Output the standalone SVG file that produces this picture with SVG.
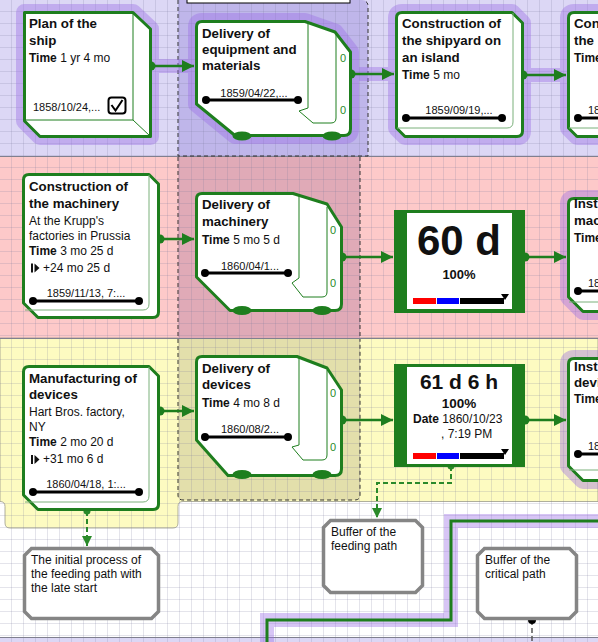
<svg xmlns="http://www.w3.org/2000/svg" width="598" height="642" viewBox="0 0 598 642">
<defs>
<pattern id="grid" width="12" height="12" patternUnits="userSpaceOnUse">
<path d="M11.5,0 V12 M0,11.5 H12" fill="none" stroke="#7a7a9a" stroke-opacity="0.2" stroke-width="1"/>
</pattern>
<marker id="arr" viewBox="0 0 10 10" refX="10" refY="5" markerUnits="userSpaceOnUse" markerWidth="15" markerHeight="12" orient="auto">
<path d="M0,0 L10,5 L0,10 Z" fill="#1e7e1e"/>
</marker>
<marker id="arrd" viewBox="0 0 10 10" refX="10" refY="5" markerUnits="userSpaceOnUse" markerWidth="11" markerHeight="10" orient="auto">
<path d="M0,0 L10,5 L0,10 Z" fill="#2a8a2a"/>
</marker>
<style>
.t{font-family:"Liberation Sans",Arial,Helvetica,sans-serif;fill:#111}
.ttl{font-size:13.3px;font-weight:bold}
.body{font-size:12px}
.b{font-weight:bold}
.date{font-size:11px;text-anchor:middle}
.zero{font-family:"Liberation Sans",Arial,sans-serif;font-size:11px;fill:#2a8a2a}
.nb{fill:#fff;stroke:#1e7e1e;stroke-width:3;stroke-linejoin:round}
.thin{fill:none;stroke:#1e7e1e;stroke-width:1}
.thinl{fill:none;stroke:#7ab07a;stroke-width:1}
.con{fill:none;stroke:#1e7e1e;stroke-width:2.5}
.dcon{fill:none;stroke:#2a8a2a;stroke-width:2;stroke-dasharray:5,3}
.dot{fill:#1e7e1e}
.bar{stroke:#000;stroke-width:3}
.bd{fill:#000}
.note{fill:#fff;stroke:#858585;stroke-width:3.5}
.halo{fill:#9b6ee6;stroke:#9b6ee6;stroke-width:17;stroke-linejoin:round}
.hl{fill:none;stroke:#9b6ee6;stroke-width:14}
.dash{fill:none;stroke:#333;stroke-width:1;stroke-dasharray:4,3}
.sep{stroke:#80808f;stroke-width:1}
.cen{text-anchor:middle}
</style>
</defs>

<g id="background">
<rect x="0" y="0" width="598" height="642" fill="#ffffff"/>
<rect x="0" y="0" width="598" height="157" fill="#dcd7f5"/>
<rect x="0" y="157" width="598" height="181" fill="#fdc9c9"/>
<path d="M0,338 H598 V501.5 H183 Q178,501.5 178,506.5 V523 Q178,528 173,528 H10 Q5,528 5,523 V506.5 Q5,501.5 0,501.5 Z" fill="#fdfbc1" stroke="#9a9a8a" stroke-width="0.8"/>
<rect x="0" y="637" width="598" height="5" fill="#dcd7f5"/>
<path d="M178,0 V156 H368 V6 Q368,0 362,0 Z" fill="#bfb6ea"/>
<rect x="178" y="157" width="182" height="181" fill="#e0aab7"/>
<path d="M178,339 H360 V495 Q360,500 355,500 H183 Q178,500 178,495 Z" fill="#e3dfab"/>
<rect x="0" y="0" width="598" height="642" fill="url(#grid)"/>
<line class="sep" x1="0" y1="156.5" x2="598" y2="156.5"/>
<line class="sep" x1="0" y1="338.5" x2="598" y2="338.5"/>
<line class="sep" x1="0" y1="637.5" x2="598" y2="637.5"/>
<path class="dash" d="M178,0 V156 H368 V6 Q368,1 363,1"/>
<path class="dash" d="M178,157 V338 M360,157 V338"/>
<path class="dash" d="M178,339 V495 Q178,500 183,500 H355 Q360,500 360,495 V339"/>
<rect x="187" y="-5" width="163" height="8" fill="#fff" stroke="#000" stroke-width="1"/>
</g>

<g id="halos" opacity="0.4">
<path class="halo" d="M24.5,12.5 H133 L150.5,29 V136.5 H40 L24.5,121 Z"/>
<path class="halo" d="M202,21.5 H305 L335,32 L350.5,52 V129 Q350.5,135.5 344,135.5 H235 L196.5,104 V27 Q196.5,21.5 202,21.5 Z"/>
<path class="halo" d="M402,12.5 H512 L522.5,23 V131 Q522.5,136.5 517,136.5 H405 L396.5,128 V18 Q396.5,12.5 402,12.5 Z"/>
<path class="halo" d="M574,12.5 H620 V136.5 H577 L568.5,128 V18 Q568.5,12.5 574,12.5 Z"/>
<path class="halo" d="M574,198.5 H620 V311.5 H583 L568.5,297 V204 Q568.5,198.5 574,198.5 Z"/>
<path class="halo" d="M574,358.5 H620 V480.5 H583 L568.5,466 V364 Q568.5,358.5 574,358.5 Z"/>
<path class="hl" d="M151,66 H195 M351,74 H395 M523,75 H567"/>
<path class="hl" d="M267,642 V620 H451 V521 H598" stroke-width="16"/>
</g>

<g id="connectors">
<path class="con" d="M151,66 H194" marker-end="url(#arr)"/>
<circle class="dot" cx="151" cy="66" r="4.5"/>
<path class="con" d="M351,74 H394" marker-end="url(#arr)"/>
<circle class="dot" cx="351" cy="74" r="4.5"/>
<path class="con" d="M523,75 H566" marker-end="url(#arr)"/>
<circle class="dot" cx="523" cy="75" r="4.5"/>
<path class="con" d="M160,239 H194" marker-end="url(#arr)"/>
<circle class="dot" cx="160" cy="239" r="4.5"/>
<path class="con" d="M342,257 H393" marker-end="url(#arr)"/>
<circle class="dot" cx="342" cy="257" r="4.5"/>
<path class="con" d="M525,257 H566" marker-end="url(#arr)"/>
<circle class="dot" cx="525" cy="257" r="4.5"/>
<path class="con" d="M160,411 H194" marker-end="url(#arr)"/>
<circle class="dot" cx="160" cy="411" r="4.5"/>
<path class="con" d="M342,420 H393" marker-end="url(#arr)"/>
<circle class="dot" cx="342" cy="420" r="4.5"/>
<path class="con" d="M525,420 H566" marker-end="url(#arr)"/>
<circle class="dot" cx="525" cy="420" r="4.5"/>
<path class="dcon" d="M87,511 V546" marker-end="url(#arrd)"/>
<circle cx="87" cy="511" r="3.5" fill="#2a8a2a"/>
<path class="dcon" d="M451,466 V483 H377 V518" marker-end="url(#arrd)"/>
<circle cx="451" cy="466" r="3.5" fill="#2a8a2a"/>
<path d="M532,620 V642" fill="none" stroke="#555" stroke-width="1.5" stroke-dasharray="5,3"/>
<circle cx="532" cy="620" r="4" fill="#000"/>
<path d="M267,642 V620 H451 V521 H598" fill="none" stroke="#1e7e1e" stroke-width="3"/>
</g>

<g id="node-plan">
<path class="nb" d="M24.5,12.5 H133 L150.5,29 V136.5 H40 L24.5,121 Z" stroke-linejoin="miter"/>
<path class="thin" d="M133,13 V120 H25 M133,120 L150,136"/>
<text class="t ttl" x="29" y="28">Plan of the</text>
<text class="t ttl" x="29" y="45">ship</text>
<text class="t body" x="29" y="62"><tspan class="b">Time</tspan> 1 yr 4 mo</text>
<text class="t" x="33" y="111" font-size="11">1858/10/24,...</text>
<rect x="108.5" y="97.5" width="17" height="16" rx="3" fill="#fff" stroke="#000" stroke-width="2"/>
<path d="M111.5,105 L115.5,110.5 L122.5,100" fill="none" stroke="#000" stroke-width="2"/>
</g>

<g id="node-delivery-equipment">
<path class="nb" d="M202,21.5 H305 L335,32 L350.5,52 V129 Q350.5,135.5 344,135.5 H235 L196.5,104 V27 Q196.5,21.5 202,21.5 Z"/>
<path class="thin" d="M308,22 V108 L299,111 L313,123 H331 Q336,123 336,118 V33"/>
<ellipse class="dot" cx="242" cy="136" rx="9.5" ry="4.5"/>
<ellipse class="dot" cx="332" cy="136" rx="9.5" ry="4.5"/>
<text class="zero" x="340" y="62">0</text>
<text class="zero" x="340" y="114">0</text>
<text class="t ttl" x="202" y="38">Delivery of</text>
<text class="t ttl" x="202" y="54">equipment and</text>
<text class="t ttl" x="202" y="70">materials</text>
<line class="bar" x1="206" y1="100" x2="298" y2="100"/>
<circle class="bd" cx="206" cy="100" r="4"/>
<circle class="bd" cx="298" cy="100" r="4"/>
<text class="t date" x="254" y="97">1859/04/22,...</text>
</g>

<g id="node-shipyard">
<path class="nb" d="M402,12.5 H512 L522.5,23 V131 Q522.5,136.5 517,136.5 H405 L396.5,128 V18 Q396.5,12.5 402,12.5 Z"/>
<path class="thinl" d="M513,13 V122 Q513,128 507,128 H397"/>
<text class="t ttl" x="402" y="28">Construction of</text>
<text class="t ttl" x="402" y="45">the shipyard on</text>
<text class="t ttl" x="402" y="62">an island</text>
<text class="t body" x="402" y="79"><tspan class="b">Time</tspan> 5 mo</text>
<line class="bar" x1="406" y1="118" x2="502" y2="118"/>
<circle class="bd" cx="406" cy="118" r="4"/>
<circle class="bd" cx="502" cy="118" r="4"/>
<text class="t date" x="459" y="114">1859/09/19,...</text>
</g>

<g id="node-construction-partial">
<path class="nb" d="M574,12.5 H620 V136.5 H577 L568.5,128 V18 Q568.5,12.5 574,12.5 Z"/>
<path class="thinl" d="M569,128 H610"/>
<text class="t ttl" x="574" y="28">Con</text>
<text class="t ttl" x="574" y="45">the</text>
<text class="t body b" x="574" y="62">Time</text>
<line class="bar" x1="578" y1="118" x2="610" y2="118"/>
<circle class="bd" cx="578" cy="118" r="4"/>
<text class="t" x="588" y="114" font-size="11">18</text>
</g>

<g id="node-machinery">
<path class="nb" d="M29,174.5 H149 L158.5,184 V312 Q158.5,317.5 153,317.5 H38 L23.5,303 V180 Q23.5,174.5 29,174.5 Z"/>
<path class="thinl" d="M149,175 V304 Q149,310 143,310 H25"/>
<text class="t ttl" x="29" y="191">Construction of</text>
<text class="t ttl" x="29" y="208">the machinery</text>
<text class="t body" x="29" y="225">At the Krupp's</text>
<text class="t body" x="29" y="240">factories in Prussia</text>
<text class="t body" x="29" y="255"><tspan class="b">Time</tspan> 3 mo 25 d</text>
<rect x="31" y="263.5" width="2" height="9" fill="#111"/>
<path d="M34.5,263.5 L39.5,268 L34.5,272.5 Z" fill="#111"/>
<text class="t body" x="43" y="272">+24 mo 25 d</text>
<line class="bar" x1="33" y1="301" x2="139" y2="301"/>
<circle class="bd" cx="33" cy="301" r="4"/>
<circle class="bd" cx="139" cy="301" r="4"/>
<text class="t date" x="86" y="297">1859/11/13, 7:...</text>
</g>

<g id="node-delivery-machinery">
<path class="nb" d="M202,193.5 H293 L327,204 L341.5,227 V304 Q341.5,310.5 335,310.5 H230 L196.5,277 V199 Q196.5,193.5 202,193.5 Z"/>
<path class="thin" d="M299,194 V278 L292,283 L303,297 H322 Q327,297 327,292 V207"/>
<ellipse class="dot" cx="242" cy="310.5" rx="9.5" ry="4.5"/>
<ellipse class="dot" cx="322" cy="310.5" rx="9.5" ry="4.5"/>
<text class="zero" x="330" y="234">0</text>
<text class="zero" x="330" y="287">0</text>
<text class="t ttl" x="202" y="209">Delivery of</text>
<text class="t ttl" x="202" y="226">machinery</text>
<text class="t body" x="202" y="244"><tspan class="b">Time</tspan> 5 mo 5 d</text>
<line class="bar" x1="205" y1="273" x2="288" y2="273"/>
<circle class="bd" cx="205" cy="273" r="4"/>
<circle class="bd" cx="288" cy="273" r="4"/>
<text class="t date" x="250" y="270">1860/04/1...</text>
</g>

<g id="node-buffer-60d">
<rect x="394" y="210" width="131" height="103" fill="#1e7e1e"/>
<rect x="407" y="213" width="105" height="96" fill="#fff"/>
<text class="t b cen" x="459" y="255" font-size="42">60 d</text>
<text class="t b cen" x="459" y="279" font-size="13">100%</text>
<rect x="413" y="298" width="23" height="6" fill="#ff0000"/>
<rect x="437" y="298" width="22" height="6" fill="#0000ff"/>
<rect x="460" y="298" width="44" height="6" fill="#000"/>
<path d="M501,294 L509,294 L505,300 Z" fill="#000"/>
</g>

<g id="node-install-machinery-partial">
<path class="nb" d="M574,198.5 H620 V311.5 H583 L568.5,297 V204 Q568.5,198.5 574,198.5 Z"/>
<path class="thinl" d="M569,302 H610"/>
<text class="t ttl" x="574" y="208">Inst</text>
<text class="t ttl" x="574" y="225">mac</text>
<text class="t body b" x="574" y="242">Time</text>
<line class="bar" x1="578" y1="291" x2="610" y2="291"/>
<circle class="bd" cx="578" cy="291" r="4"/>
<text class="t" x="588" y="287" font-size="11">18</text>
</g>

<g id="node-manufacturing">
<path class="nb" d="M29,366.5 H149 L158.5,376 V504 Q158.5,509.5 153,509.5 H38 L23.5,495 V372 Q23.5,366.5 29,366.5 Z"/>
<path class="thinl" d="M149,367 V496 Q149,502 143,502 H25"/>
<text class="t ttl" x="29" y="383">Manufacturing of</text>
<text class="t ttl" x="29" y="399">devices</text>
<text class="t body" x="29" y="416">Hart Bros. factory,</text>
<text class="t body" x="29" y="431">NY</text>
<text class="t body" x="29" y="446"><tspan class="b">Time</tspan> 2 mo 20 d</text>
<rect x="31" y="455" width="2" height="9" fill="#111"/>
<path d="M34.5,455 L39.5,459.5 L34.5,464 Z" fill="#111"/>
<text class="t body" x="43" y="463">+31 mo 6 d</text>
<line class="bar" x1="33" y1="492" x2="139" y2="492"/>
<circle class="bd" cx="33" cy="492" r="4"/>
<circle class="bd" cx="139" cy="492" r="4"/>
<text class="t date" x="86" y="488">1860/04/18, 1:...</text>
</g>

<g id="node-delivery-devices">
<path class="nb" d="M202,356.5 H297 L327,368 L341.5,390 V469 Q341.5,475.5 335,475.5 H228 L196.5,440 V362 Q196.5,356.5 202,356.5 Z"/>
<path class="thin" d="M299,357 V445 L292,447 L303,460 H322 Q327,460 327,455 V370"/>
<ellipse class="dot" cx="242" cy="474.5" rx="9.5" ry="4.5"/>
<ellipse class="dot" cx="322" cy="474.5" rx="9.5" ry="4.5"/>
<text class="zero" x="330" y="397">0</text>
<text class="zero" x="330" y="451">0</text>
<text class="t ttl" x="202" y="373">Delivery of</text>
<text class="t ttl" x="202" y="389">devices</text>
<text class="t body" x="202" y="407"><tspan class="b">Time</tspan> 4 mo 8 d</text>
<line class="bar" x1="205" y1="437" x2="288" y2="437"/>
<circle class="bd" cx="205" cy="437" r="4"/>
<circle class="bd" cx="288" cy="437" r="4"/>
<text class="t date" x="250" y="433">1860/08/2...</text>
</g>

<g id="node-buffer-61d">
<rect x="394" y="364" width="131" height="103" fill="#1e7e1e"/>
<rect x="407" y="367" width="105" height="97" fill="#fff"/>
<text class="t b cen" x="459" y="389" font-size="21">61 d 6 h</text>
<text class="t b cen" x="459" y="408" font-size="13.5">100%</text>
<text class="t body" x="413" y="423"><tspan class="b">Date</tspan> 1860/10/23</text>
<text class="t body" x="441" y="438">, 7:19 PM</text>
<rect x="413" y="453" width="23" height="6" fill="#ff0000"/>
<rect x="437" y="453" width="22" height="6" fill="#0000ff"/>
<rect x="460" y="453" width="44" height="6" fill="#000"/>
<path d="M501,449 L509,449 L505,455 Z" fill="#000"/>
</g>

<g id="node-install-devices-partial">
<path class="nb" d="M574,358.5 H620 V480.5 H583 L568.5,466 V364 Q568.5,358.5 574,358.5 Z"/>
<path class="thinl" d="M569,470 H610"/>
<text class="t ttl" x="574" y="371">Inst</text>
<text class="t ttl" x="574" y="387">devi</text>
<text class="t body b" x="574" y="403">Time</text>
<line class="bar" x1="578" y1="454" x2="610" y2="454"/>
<circle class="bd" cx="578" cy="454" r="4"/>
<text class="t" x="588" y="450" font-size="11">18</text>
</g>

<g id="note-initial">
<path class="note" d="M31.5,548.5 H151.5 L158.5,555.5 V611.5 L151.5,618.5 H31.5 L24.5,611.5 V555.5 Z"/>
<text class="t body" x="31" y="564">The initial process of</text>
<text class="t body" x="31" y="578">the feeding path with</text>
<text class="t body" x="31" y="592">the late start</text>
</g>

<g id="note-feeding-buffer">
<path class="note" d="M330.5,520.5 H415.5 L422.5,527.5 V585.5 L415.5,592.5 H330.5 L323.5,585.5 V527.5 Z"/>
<text class="t body" x="331" y="536">Buffer of the</text>
<text class="t body" x="331" y="550">feeding path</text>
</g>

<g id="note-critical-buffer">
<path class="note" d="M484.5,548.5 H569.5 L576.5,555.5 V611.5 L569.5,618.5 H484.5 L477.5,611.5 V555.5 Z"/>
<text class="t body" x="485" y="564">Buffer of the</text>
<text class="t body" x="485" y="578">critical path</text>
</g>
</svg>
